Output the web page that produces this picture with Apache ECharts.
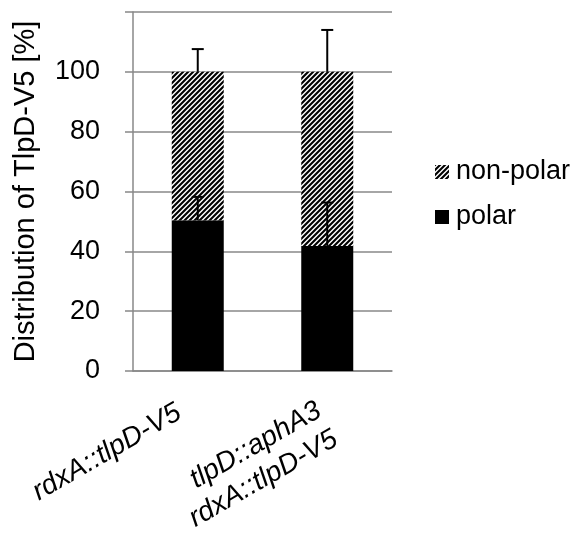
<!DOCTYPE html>
<html>
<head>
<meta charset="utf-8">
<script src="https://cdn.jsdelivr.net/npm/echarts@6/dist/echarts.min.js"></script>
<style>
    html, body { margin: 0; padding: 0; background: #fff; }
    #chart { width: 576px; height: 534px; }
</style>
</head>
<body>
<div id="chart"></div>
<script>
// categories and values
var categories = ['rdxA::tlpD-V5', 'tlpD::aphA3\nrdxA::tlpD-V5'];
var polarValues = [50.4, 41.8];
var nonPolarValues = [49.6, 58.2];
var polarErrors = [7.8, 14.5];
var nonPolarErrors = [7.6, 14];
var yTicks = [0, 20, 40, 60, 80, 100];

/**
 * diagonal hatch tile for non-polar
 */
function hatchTile() {
    var s = 5;
    var c = document.createElement('canvas');
    c.width = s;
    c.height = s;
    var ctx = c.getContext('2d');
    ctx.fillStyle = '#fff';
    ctx.fillRect(0, 0, s, s);
    ctx.strokeStyle = '#000';
    ctx.lineWidth = 2.1;
    ctx.beginPath();
    ctx.moveTo(-1, 1); ctx.lineTo(1, -1);
    ctx.moveTo(0, s); ctx.lineTo(s, 0);
    ctx.moveTo(s - 1, s + 1); ctx.lineTo(s + 1, s - 1);
    ctx.stroke();
    return c;
}

// error bar data: [category, base, error]
var errorData = [];
for (var i = 0; i < categories.length; i++) {
    errorData.push([i, polarValues[i], polarErrors[i]]);
    errorData.push([i, polarValues[i] + nonPolarValues[i], nonPolarErrors[i]]);
}

// first label sits a bit further left and higher in the original:
// a blank second line lifts it, right padding pulls it back
var xLabels = categories.map(function (name, i) {
    return i === 0 ? { value: name + '\n ', textStyle: { padding: [0, 10, 0, 0], lineHeight: 40 } } : name;
});

var myChart = echarts.init(document.getElementById('chart'));
var font = 'Liberation Sans, Arial, sans-serif';
var option = {
    animation: false,
    textStyle: { fontFamily: font },
    grid: { left: 133, right: 184, top: 12, bottom: 163, containLabel: false, outerBoundsMode: 'none' },
    legend: {
        orient: 'vertical',
        left: 435,
        top: 158,
        padding: 0,
        icon: 'rect',
        itemWidth: 14,
        itemHeight: 14,
        itemGap: 17,
        data: ['non-polar', 'polar'],
        textStyle: { fontSize: 27, color: '#000', fontFamily: font, lineHeight: 28, padding: [0, 0, 0, 2] }
    },
    xAxis: {
        type: 'category',
        data: xLabels,
        axisLine: { lineStyle: { color: '#888', width: 1.5 } },
        axisTick: { show: false },
        axisLabel: {
            rotate: 30,
            margin: 52,
            fontSize: 28,
            fontStyle: 'italic',
            color: '#000',
            align: 'right',
            interval: 0,
            lineHeight: 33
        }
    },
    yAxis: {
        type: 'value',
        min: 0,
        max: 120,
        interval: 20,
        name: 'Distribution of TlpD-V5 [%]',
        nameLocation: 'middle',
        nameGap: 93,
        nameTextStyle: { fontSize: 29, color: '#000' },
        axisLine: { show: true, lineStyle: { color: '#888', width: 1.5 } },
        axisTick: { show: true, inside: false, length: 8, lineStyle: { color: '#888', width: 1.5 } },
        splitLine: { lineStyle: { color: '#888', width: 1.5 } },
        axisLabel: {
            margin: 33,
            fontSize: 27,
            color: '#000',
            formatter: function (v) {
                return yTicks.indexOf(v) >= 0 ? String(v) : '';
            }
        }
    },
    series: [
        {
            name: 'polar',
            type: 'bar',
            stack: 'total',
            barWidth: 52,
            itemStyle: { color: '#000' },
            data: polarValues
        },
        {
            name: 'non-polar',
            type: 'bar',
            stack: 'total',
            barWidth: 52,
            itemStyle: { color: { image: hatchTile(), repeat: 'repeat' } },
            data: nonPolarValues
        },
        {
            name: 'errors',
            type: 'custom',
            z: 10,
            silent: true,
            data: errorData,
            encode: { x: 0, y: 1 },
            renderItem: function (params, api) {
                var base = api.coord([api.value(0), api.value(1)]);
                var top = api.coord([api.value(0), api.value(1) + api.value(2)]);
                var style = { stroke: '#000', lineWidth: 2 };
                return {
                    type: 'group',
                    children: [
                        { type: 'line', shape: { x1: base[0], y1: base[1], x2: top[0], y2: top[1] }, style: style },
                        { type: 'line', shape: { x1: top[0] - 6, y1: top[1], x2: top[0] + 6, y2: top[1] }, style: style }
                    ]
                };
            }
        }
    ]
};
myChart.setOption(option, true);
</script>
</body>
</html>
